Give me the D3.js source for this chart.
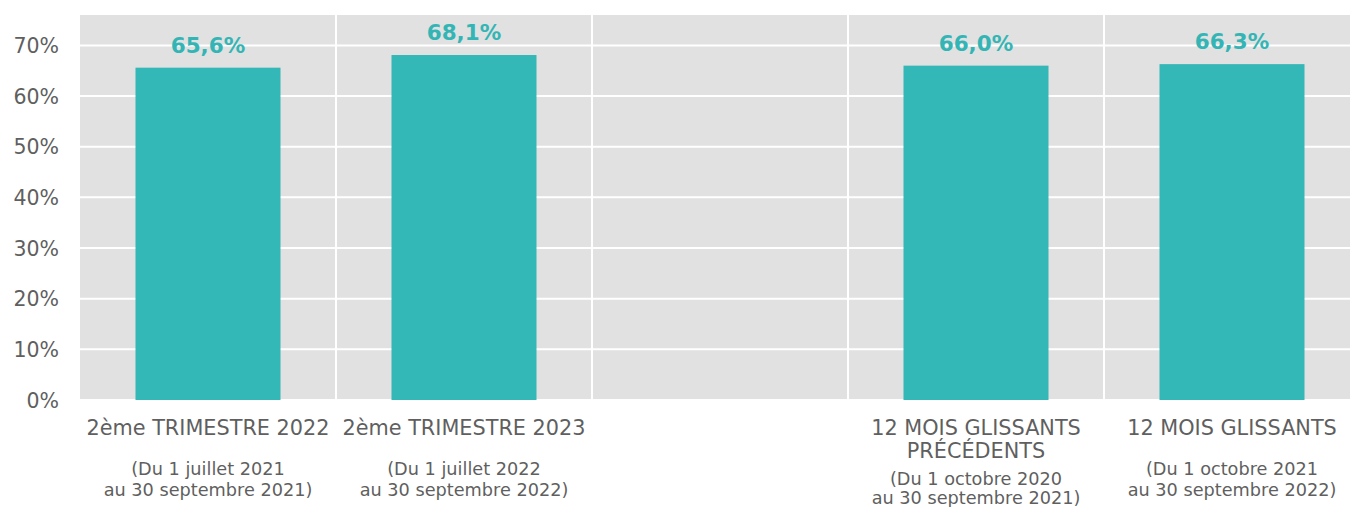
<!DOCTYPE html>
<html lang="fr">
<head>
    <meta charset="UTF-8">
    <title>Taux</title>
    <script src="https://d3js.org/d3.v7.min.js"></script>
    <style>
    body { margin: 0; background: #fff; }
    text { font-family: "DejaVu Sans", Verdana, sans-serif; fill: #5f5f5f; }
    .val { font-weight: bold; fill: #33b5b5; font-size: 21.5px; }
    .tick text { font-size: 20.5px; }
    .cat { font-size: 20.8px; }
    .sub { font-size: 17.7px; }
    </style>
</head>
<body>
<script>
const categories = ["2ème TRIMESTRE 2022", "2ème TRIMESTRE 2023", "", "12 MOIS GLISSANTS|PRÉCÉDENTS", "12 MOIS GLISSANTS"];
const subtitles = [
    "(Du 1 juillet 2021|au 30 septembre 2021)",
    "(Du 1 juillet 2022|au 30 septembre 2022)",
    "",
    "(Du 1 octobre 2020|au 30 septembre 2021)",
    "(Du 1 octobre 2021|au 30 septembre 2022)"
];
const values = [65.6, 68.1, null, 66.0, 66.3];
const yTicks = [0, 10, 20, 30, 40, 50, 60, 70];

const width = 1350, height = 507;
const mLeft = 80, mRight = 1360, mTop = 15, mBottom = 400;

const svg = d3.select("body").append("svg")
    .attr("width", width)
    .attr("height", height);

const x = d3.scaleBand()
    .domain(d3.range(categories.length))
    .range([mLeft, mRight])
    .padding(0);

const y = d3.scaleLinear()
    .domain([0, 76])
    .range([mBottom, mTop]);

svg.append("rect")
    .attr("x", mLeft).attr("y", mTop)
    .attr("width", mRight - mLeft).attr("height", mBottom - mTop)
    .attr("fill", "#e1e1e1");

// horizontal grid
svg.append("g")
    .selectAll("line")
    .data(yTicks)
    .join("line")
    .attr("x1", mLeft).attr("x2", mRight)
    .attr("y1", d => y(d)).attr("y2", d => y(d))
    .attr("stroke", "#fff")
    .attr("stroke-width", 2);

// category separators
svg.append("g")
    .selectAll("line")
    .data(d3.range(1, categories.length))
    .join("line")
    .attr("x1", d => x(d)).attr("x2", d => x(d))
    .attr("y1", mTop).attr("y2", mBottom)
    .attr("stroke", "#fff")
    .attr("stroke-width", 2);

const yAxis = svg.append("g")
    .attr("transform", `translate(${mLeft},0)`)
    .call(d3.axisLeft(y).tickValues(yTicks).tickFormat(d => d + "%").tickSize(0).tickPadding(21));
yAxis.select(".domain").remove();
yAxis.selectAll("text").attr("fill", "#5f5f5f").attr("dy", "0.35em");

const barW = 145;
const bars = values.map((v, i) => ({ v, i })).filter(d => d.v !== null);

svg.append("g")
    .selectAll("rect")
    .data(bars)
    .join("rect")
    .attr("x", d => x(d.i) + x.bandwidth() / 2 - barW / 2)
    .attr("y", d => y(d.v))
    .attr("width", barW)
    .attr("height", d => y(0) - y(d.v))
    .attr("fill", "#33b7b7");

svg.append("g")
    .selectAll("text")
    .data(bars)
    .join("text")
    .attr("class", "val")
    .attr("text-anchor", "middle")
    .attr("x", d => x(d.i) + x.bandwidth() / 2)
    .attr("y", d => y(d.v) - 15)
    .text(d => d.v.toFixed(1).replace(".", ",") + "%");

// category labels
categories.forEach((c, i) => {
    if (!c) return;
    const cx = x(i) + x.bandwidth() / 2;
    const lines = c.split("|");
    const t = svg.append("text").attr("class", "cat").attr("text-anchor", "middle");
    lines.forEach((l, k) => t.append("tspan").attr("x", cx).attr("y", 435 + k * 23).text(l));
    const sub = subtitles[i].split("|");
    const subTop = i === 3 ? 485 : 475;
    const gap = i === 3 ? 19 : 21;
    const s = svg.append("text").attr("class", "sub").attr("text-anchor", "middle");
    sub.forEach((l, k) => s.append("tspan").attr("x", cx).attr("y", subTop + k * gap).text(l));
});
</script>
</body>
</html>
